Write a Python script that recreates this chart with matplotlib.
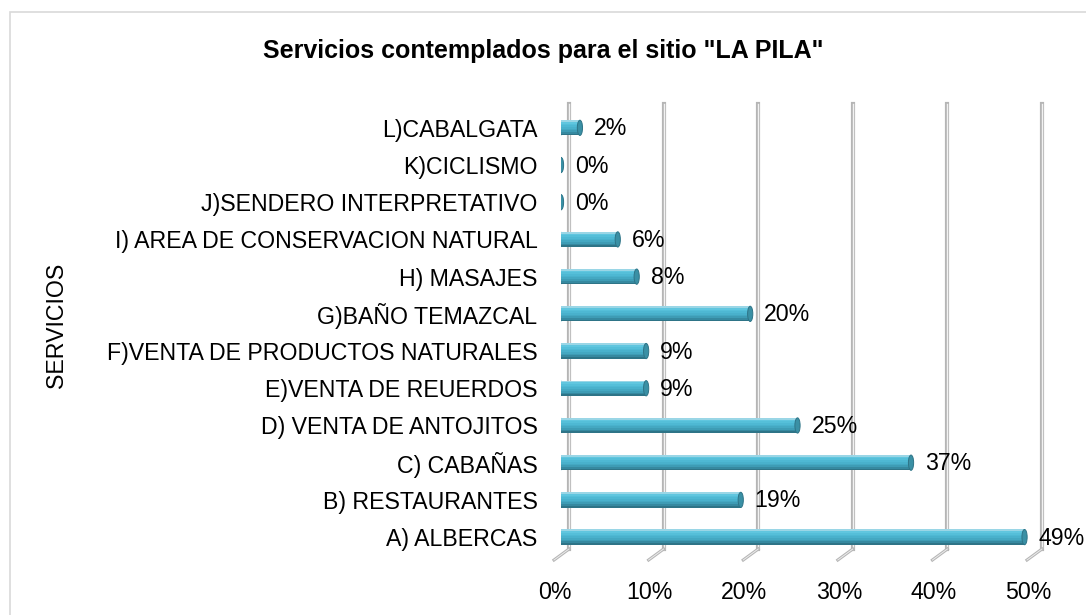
import matplotlib.pyplot as plt
import matplotlib.transforms as mtrans
from matplotlib.patches import Ellipse, Rectangle
import numpy as np

plt.rcParams['font.family'] = ['Liberation Sans', 'DejaVu Sans']

servicios = ['A) ALBERCAS', 'B) RESTAURANTES', 'C) CABAÑAS', 'D) VENTA DE ANTOJITOS',
             'E)VENTA DE REUERDOS', 'F)VENTA DE PRODUCTOS NATURALES', 'G)BAÑO TEMAZCAL',
             'H) MASAJES', 'I) AREA DE CONSERVACION NATURAL', 'J)SENDERO INTERPRETATIVO',
             'K)CICLISMO', 'L)CABALGATA']
porcentajes = [49, 19, 37, 25, 9, 9, 20, 8, 6, 0, 0, 2]
ticks = [0, 10, 20, 30, 40, 50]
tick_labels = ['0%', '10%', '20%', '30%', '40%', '50%']

W, H = 1086, 615
fs = 16.7
fig = plt.figure(figsize=(W / 100, H / 100), dpi=100)
ax = fig.add_axes([561 / W, 1 - 549 / H, 473 / W, (549 - 104) / H])

# marco del grafico
fig.patches.append(Rectangle((10 / W, -0.1), 1.2, 1 - 12 / H + 0.1, transform=fig.transFigure,
                             fill=False, edgecolor='#d9d9d9', lw=1.2))

ax.set_xlim(0, 50)
ax.set_ylim(-0.32, 11.64)
y = np.arange(len(servicios))
alto = 0.41

# lineas de division (pared de fondo + piso en diagonal)
back = mtrans.offset_copy(ax.transData, fig=fig, x=8, y=0, units='dots')
for t in ticks:
    ax.plot([t, t], [-0.32, 11.64], color='#b5b5b5', lw=3.0, transform=back, zorder=1, clip_on=False)
    ax.plot([t, t], [-0.32, 11.64], color='#f2f2f2', lw=1.0, transform=back, zorder=1, clip_on=False)
    piso = mtrans.ScaledTranslation(t, -0.32, ax.transData)
    ax.plot([8, -7], [0, -11], color='#b5b5b5', lw=2.2, transform=mtrans.Affine2D() + piso,
            zorder=1, clip_on=False)
    ax.plot([8, -7], [0, -11], color='#ececec', lw=0.7, transform=mtrans.Affine2D() + piso,
            zorder=1, clip_on=False)

# barras cilindricas: franjas con degradado
colores = ['#9ad6e6', '#60c6df', '#55bfd9', '#4eb8d3', '#49b1cc', '#44a8c2', '#3e9cb5', '#3689a0', '#2e7487']
n = len(colores)
for i, v in enumerate(porcentajes):
    for k, c in enumerate(colores):
        yc = y[i] + alto / 2 - (k + 0.5) * alto / n
        ax.barh(yc, v, height=alto / n, color=c, edgecolor='none', zorder=3)
    ax.add_patch(Ellipse((0, y[i]), 0.5, alto, facecolor='#4eb8d3', edgecolor='none', zorder=2.9))
    ax.add_patch(Ellipse((v, y[i]), 0.55, alto, facecolor='#3a90a5', edgecolor='#2e7487',
                         lw=0.7, zorder=4))
    ax.annotate('{}%'.format(v), (v, y[i]), xytext=(14, -1), textcoords='offset pixels',
                va='center', ha='left', fontsize=fs, zorder=5)

ax.set_yticks(y)
ax.set_yticklabels(servicios, fontsize=fs)
ax.set_xticks(ticks)
ax.set_xticklabels(tick_labels, fontsize=fs)
ax.tick_params(axis='y', length=0, pad=17)
ax.tick_params(axis='x', length=0, pad=23)
for lab in ax.get_xticklabels():
    lab.set_transform(lab.get_transform() + mtrans.Affine2D().translate(-6, 0))
for s in ax.spines.values():
    s.set_visible(False)
ax.patch.set_visible(False)

fig.text(57 / W, 1 - 325 / H, 'SERVICIOS', rotation=90, fontsize=fs, ha='center', va='center')
fig.text(0.5, 1 - 51 / H, 'Servicios contemplados para el sitio "LA PILA"', fontsize=18,
         fontweight='bold', ha='center', va='center')

fig.savefig('out.png', dpi=100)
